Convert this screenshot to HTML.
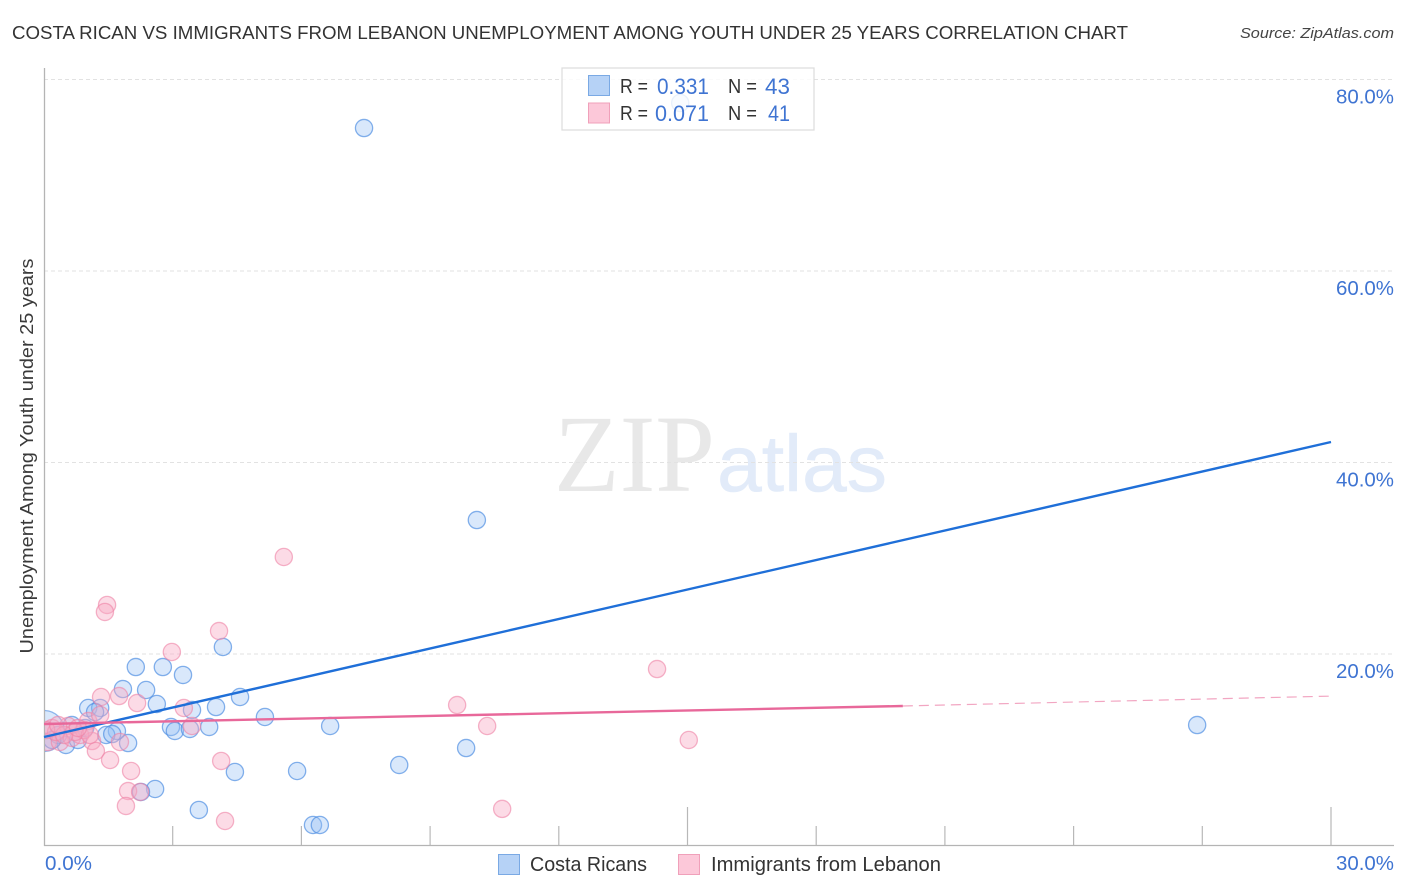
<!DOCTYPE html>
<html lang="en">
<head>
<meta charset="utf-8">
<title>Costa Rican vs Immigrants from Lebanon Unemployment Correlation Chart</title>
<style>
html,body{margin:0;padding:0;background:#fff;width:1406px;height:892px;overflow:hidden}
svg{display:block;font-family:"Liberation Sans",sans-serif}
</style>
</head>
<body>
<svg id="chart" xmlns="http://www.w3.org/2000/svg" width="1406" height="892" viewBox="0 0 1406 892">
  <defs><clipPath id="plot-clip"><rect x="45" y="60" width="1350" height="785"/></clipPath></defs>
  <rect width="1406" height="892" fill="#fff"/>
  <text x="12" y="39" font-size="18.5" fill="#333" textLength="1116" lengthAdjust="spacingAndGlyphs">COSTA RICAN VS IMMIGRANTS FROM LEBANON UNEMPLOYMENT AMONG YOUTH UNDER 25 YEARS CORRELATION CHART</text>
  <text x="1394" y="38" font-size="15" font-style="italic" fill="#444" text-anchor="end" textLength="154" lengthAdjust="spacingAndGlyphs">Source: ZipAtlas.com</text>
  <text transform="translate(33,456) rotate(-90)" font-size="18.5" fill="#3a3a3a" text-anchor="middle" textLength="395" lengthAdjust="spacingAndGlyphs">Unemployment Among Youth under 25 years</text>
  <g>
    <text x="554" y="491" font-family="'Liberation Serif',serif" font-size="110" fill="#e8e8e8" textLength="161" lengthAdjust="spacingAndGlyphs">ZIP</text>
    <text x="717" y="491" font-size="80" fill="#e2ebf9" stroke="#e2ebf9" stroke-width="0.6" textLength="170" lengthAdjust="spacingAndGlyphs">atlas</text>
  </g>
  <g id="grid"></g>
  <g id="axes"></g>
  <g id="points" clip-path="url(#plot-clip)"></g>
  <g id="trends"></g>
  <g id="labels"></g>

  <g>
    <rect x="562" y="68" width="252" height="62" fill="#fff" fill-opacity="0.82" stroke="#dcdcdc" stroke-width="1.2"/>
    <rect x="588.500" y="75.500" width="21" height="20" fill="#b6d2f6" stroke="#7aa9e4"/>
    <rect x="588.500" y="103" width="21" height="20" fill="#fcc8d9" stroke="#f0a0ba"/>
    <text x="620" y="93" font-size="20" fill="#333" textLength="28" lengthAdjust="spacingAndGlyphs">R =</text>
    <text x="657" y="94" font-size="22" fill="#3f74d2" textLength="52" lengthAdjust="spacingAndGlyphs">0.331</text>
    <text x="728" y="93" font-size="20" fill="#333" textLength="29" lengthAdjust="spacingAndGlyphs">N =</text>
    <text x="765" y="94" font-size="22" fill="#3f74d2" textLength="25" lengthAdjust="spacingAndGlyphs">43</text>
    <text x="620" y="120" font-size="20" fill="#333" textLength="28" lengthAdjust="spacingAndGlyphs">R =</text>
    <text x="655" y="121" font-size="22" fill="#3f74d2" textLength="54" lengthAdjust="spacingAndGlyphs">0.071</text>
    <text x="728" y="120" font-size="20" fill="#333" textLength="29" lengthAdjust="spacingAndGlyphs">N =</text>
    <text x="768" y="121" font-size="22" fill="#3f74d2" textLength="22" lengthAdjust="spacingAndGlyphs">41</text>
  </g>

  <g>
    <rect x="498.500" y="854.500" width="21" height="20" fill="#b6d2f6" stroke="#7aa9e4"/>
    <text x="530" y="871" font-size="20" fill="#333" textLength="117" lengthAdjust="spacingAndGlyphs">Costa Ricans</text>
    <rect x="678.500" y="854.500" width="21" height="20" fill="#fcc8d9" stroke="#f0a0ba"/>
    <text x="711" y="871" font-size="20" fill="#333" textLength="230" lengthAdjust="spacingAndGlyphs">Immigrants from Lebanon</text>
  </g>
</svg>
<script>
const yTickValues = [20, 40, 60, 80];
const yTickLabels = ['20.0%', '40.0%', '60.0%', '80.0%'];
const xTickValues = [3, 6, 9, 12, 15, 18, 21, 24, 27, 30];
const xEndLabels = ['0.0%', '30.0%'];
const xEndValues = [0, 30];

const blueX = [7.46,10.09,26.88,4.17,2.14,2.77,3.24,1.84,2.38,2.63,1.03,1.31,1.19,3.45,4.01,4.57,5.15,6.67,2.96,3.05,3.40,3.85,1.70,1.45,1.59,1.96,9.84,8.28,5.90,4.45,2.59,2.26,3.61,6.27,6.43,14.83,0.65,0.51,0.33,0.79,0.19,0.96];
const blueY = [74.93,33.99,12.58,20.73,18.64,18.64,17.81,16.34,16.24,14.78,14.36,14.36,13.94,14.15,14.46,15.51,13.42,12.48,12.38,11.96,12.17,12.38,11.96,11.54,11.64,10.70,10.18,8.41,7.78,7.68,5.90,5.59,3.71,2.14,2.14,77.55,12.58,10.50,11.54,11.02,11.02,12.27];
const blueBubbleX = [0];
const blueBubbleY = [11.96];

const pinkX = [5.59,1.47,1.42,4.08,2.98,14.29,1.33,1.75,2.17,9.63,3.26,3.45,10.33,15.03,1.77,1.12,1.21,1.54,4.13,2.03,1.96,1.91,2.24,4.22,10.68,1.03,0.19,0.09,0.37,0.65,0.84,0.93,0.56,1.31,0.28,0.72,0.47,0.05,1.07,0.79,0.33];
const pinkY = [30.13,25.12,24.39,22.40,20.21,18.43,15.51,15.61,14.88,14.67,14.36,12.48,12.48,11.02,10.81,10.91,9.87,8.93,8.83,7.78,5.69,4.13,5.59,2.56,3.82,13.0,12.27,10.81,10.81,11.23,11.54,12.06,12.48,13.63,11.85,11.85,11.54,12.06,11.54,12.27,12.58];

const blueTrendX = [0, 30];
const blueTrendY = [11.33, 42.14];
const pinkSolidX = [0, 20.02];
const pinkSolidY = [12.69, 14.57];
const pinkDashX = [20.02, 30];
const pinkDashY = [14.57, 15.6];

const NS = 'http://www.w3.org/2000/svg';
const xScale = v => 44 + v * 42.9;
const yScale = v => 845.5 - v * 9.575;

function make(tag, parent, attrs) {
  const el = document.createElementNS(NS, tag);
  for (const k in attrs) el.setAttribute(k, attrs[k]);
  parent.appendChild(el);
  return el;
}

const grid = document.getElementById('grid');
yTickValues.forEach(v => {
  const ln = make('line', grid, {x1: 44, x2: 1394, y1: yScale(v), y2: yScale(v), stroke: '#e2e2e2', 'stroke-width': 1, 'stroke-dasharray': '4 3'});
  
  
});

const axes = document.getElementById('axes');
const yAxis = make('line', axes, {x1: 44.5, x2: 44.5, y1: 68, y2: 846, stroke: '#b4b4b4', 'stroke-width': 1.3});


const xAxis = make('line', axes, {x1: 44, x2: 1394, y1: 845.5, y2: 845.5, stroke: '#b4b4b4', 'stroke-width': 1.3});


xTickValues.forEach(v => {
  const tall = v === 15 || v === 30;
  const t = make('line', axes, {x1: xScale(v), x2: xScale(v), y1: tall ? 807 : 826, y2: 845, stroke: '#b8b8b8', 'stroke-width': 1.2});
  
  
});

const points = document.getElementById('points');
blueBubbleX.forEach((v, i) => {
  const c = make('circle', points, {cx: xScale(v), cy: yScale(blueBubbleY[i]), r: 20.5, fill: 'rgba(150,192,245,0.36)', stroke: 'rgba(75,140,225,0.6)', 'stroke-width': 1.3});
  
  
});
blueX.forEach((v, i) => {
  const c = make('circle', points, {cx: xScale(v), cy: yScale(blueY[i]), r: 8.6, fill: 'rgba(150,192,245,0.36)', stroke: 'rgba(75,140,225,0.68)', 'stroke-width': 1.3});
  
  
});
pinkX.forEach((v, i) => {
  const c = make('circle', points, {cx: xScale(v), cy: yScale(pinkY[i]), r: 8.6, fill: 'rgba(248,170,195,0.42)', stroke: 'rgba(238,130,165,0.6)', 'stroke-width': 1.3});
  
  
});

const trends = document.getElementById('trends');
const tb = make('line', trends, {x1: xScale(blueTrendX[0]), y1: yScale(blueTrendY[0]), x2: xScale(blueTrendX[1]), y2: yScale(blueTrendY[1]), stroke: '#1f6fd8', 'stroke-width': 2.4});


const tp = make('line', trends, {x1: xScale(pinkSolidX[0]), y1: yScale(pinkSolidY[0]), x2: xScale(pinkSolidX[1]), y2: yScale(pinkSolidY[1]), stroke: '#e8689a', 'stroke-width': 2.4});


const td = make('line', trends, {x1: xScale(pinkDashX[0]), y1: yScale(pinkDashY[0]), x2: xScale(pinkDashX[1]), y2: yScale(pinkDashY[1]), stroke: '#f2a6c2', 'stroke-width': 1.2, 'stroke-dasharray': '10 6'});



const labels = document.getElementById('labels');
yTickValues.forEach((v, i) => {
  const t = make('text', labels, {x: 1394, y: yScale(v) + 24, 'font-size': 20, fill: '#3f74d2', 'text-anchor': 'end', textLength: 58, lengthAdjust: 'spacingAndGlyphs'});
  t.textContent = yTickLabels[i];
  
  
});
xEndValues.forEach((v, i) => {
  const t = make('text', labels, {x: i === 0 ? xScale(v) + 1 : 1394, y: 870, 'font-size': 20, fill: '#3f74d2', 'text-anchor': i === 0 ? 'start' : 'end', textLength: i === 0 ? 47 : 58, lengthAdjust: 'spacingAndGlyphs'});
  t.textContent = xEndLabels[i];
  
  
});
</script>
</body>
</html>
